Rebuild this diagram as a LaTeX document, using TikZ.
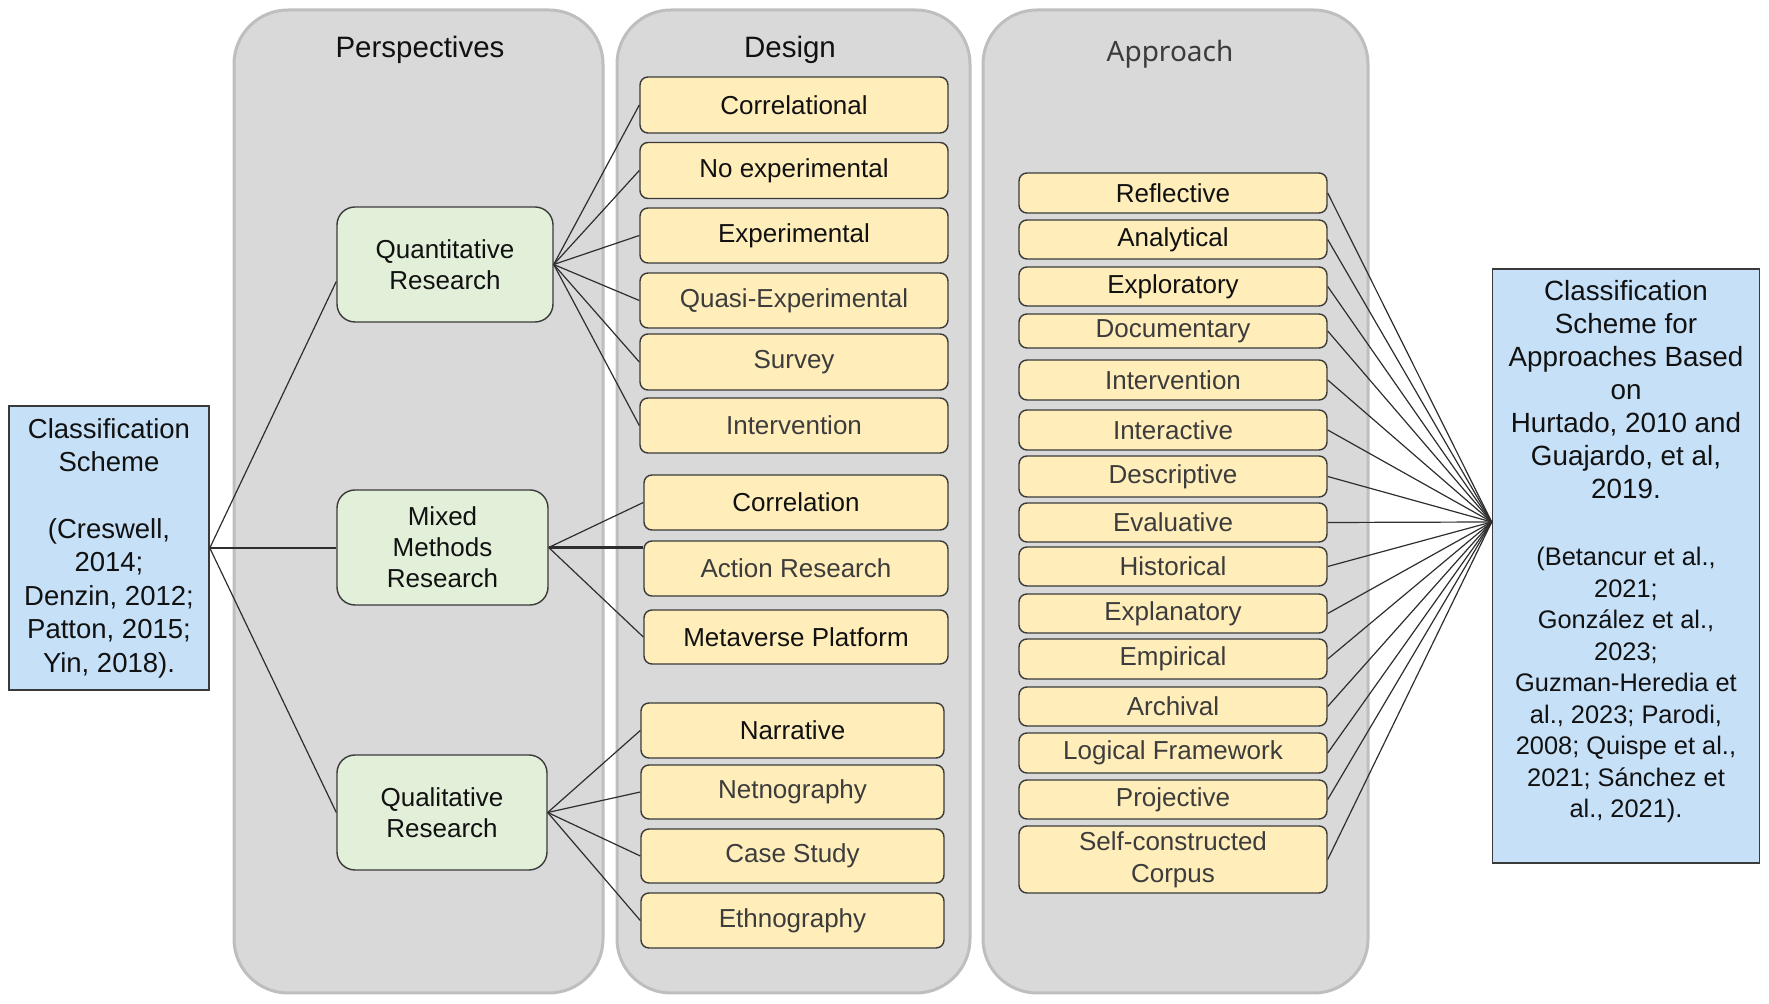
\documentclass[tikz,border=0pt]{standalone}
\usepackage{fontspec}
\setmainfont{Liberation Sans}
\newfontfamily\apprfont{Noto Sans}
\usetikzlibrary{calc}
\definecolor{panelfill}{HTML}{D9D9D9}
\definecolor{panelline}{HTML}{BEBEBE}
\definecolor{nodeline}{HTML}{3A3A3A}
\definecolor{ylw}{HTML}{FFEDBA}
\definecolor{grn}{HTML}{E2EFD9}
\definecolor{blu}{HTML}{C6E0F8}
\definecolor{txtdark}{HTML}{111111}
\definecolor{txtgray}{HTML}{3C3C3C}
\definecolor{connline}{HTML}{2E2E2E}
\begin{document}
\begin{tikzpicture}[x=0.5pt,y=-0.5pt,
  panel/.style={fill=panelfill, draw=panelline, line width=1.5pt, rounded corners=27pt},
  ttl/.style={font=\fontsize{14.75pt}{17pt}\selectfont, text=txtdark},
  ynode/.style={draw=nodeline, fill=ylw, line width=0.7pt, rounded corners=4pt, inner sep=0pt,
    align=center, font=\fontsize{13pt}{16pt}\selectfont, text=txtdark},
  dw/.style={minimum width=154pt},
  cw/.style={minimum width=152pt},
  nw/.style={minimum width=151.5pt},
  aw/.style={minimum width=154pt},
  gt/.style={text=txtgray},
  gnode/.style={draw=nodeline, fill=grn, line width=0.7pt, rounded corners=9pt, inner sep=0pt,
    minimum height=57.5pt, align=center, font=\fontsize{13pt}{15.6pt}\selectfont, text=txtdark},
  bnode/.style={draw=nodeline, fill=blu, line width=0.8pt, inner sep=0pt},
  conn/.style={draw=connline, line width=0.6pt},
  thickconn/.style={draw=connline, line width=1.3pt}
]
\useasboundingbox (0,0) rectangle (1769,1004);

% panels
\draw[panel] (234,10) rectangle (603,993);
\draw[panel] (617,10) rectangle (970,993);
\draw[panel] (983,10) rectangle (1368,993);
\node[ttl] (tPersp) at (420,50) {Perspectives};
\node[ttl] (tDesign) at (790,50) {Design};
\node[font=\apprfont\fontsize{14pt}{17pt}\selectfont, text=txtgray] (tAppr) at (1170,54) {Approach};

% left box
\node[bnode, minimum width=100pt, minimum height=142pt, align=center,
  font=\fontsize{13.75pt}{16.7pt}\selectfont, text=txtdark] (lbox) at (109,548)
  {Classification\\Scheme\\[16.7pt](Creswell,\\2014;\\Denzin, 2012;\\Patton, 2015;\\Yin, 2018).};

% right box
\node[bnode, minimum width=133.5pt, minimum height=297pt] (rbox) at (1626,566) {};
\node[anchor=north, inner sep=0pt, align=center, font=\fontsize{13.9pt}{16.5pt}\selectfont, text=txtdark]
  (rtextA) at (1626,280) {Classification\\Scheme for\\Approaches Based\\on\\Hurtado, 2010 and\\Guajardo, et al,\\2019.};
\node[anchor=north, inner sep=0pt, align=center, font=\fontsize{12.7pt}{15.75pt}\selectfont, text=txtdark]
  (rtextB) at (1626,547) {(Betancur et al.,\\2021;\\González et al.,\\2023;\\Guzman-Heredia et\\al., 2023; Parodi,\\2008; Quispe et al.,\\2021; Sánchez et\\al., 2021).};
\coordinate (conv) at ([yshift=22pt]rbox.west);

% perspectives
\node[gnode, minimum width=108pt] (quant) at (445,264.5) {Quantitative\\Research};
\node[gnode, minimum width=105.5pt] (mixed) at (442.5,547.5) {Mixed\\Methods\\Research};
\node[gnode, minimum width=105pt] (qual) at (442,812.5) {Qualitative\\Research};

% design
\node[ynode, dw, minimum height=28pt] (d1) at (794,105) {Correlational};
\node[ynode, dw, minimum height=28pt] (d2) at (794,170.5) {No experimental};
\node[ynode, dw, minimum height=27.5pt] (d3) at (794,235.5) {Experimental};
\node[ynode, dw, minimum height=27.5pt, gt] (d4) at (794,300.5) {Quasi-Experimental};
\node[ynode, dw, minimum height=28pt, gt] (d5) at (794,362) {Survey};
\node[ynode, dw, minimum height=27.5pt, gt] (d6) at (794,425.5) {Intervention};

\node[ynode, cw, minimum height=27.5pt] (m1) at (796,502.5) {Correlation};
\node[ynode, cw, minimum height=27.5pt, gt] (m2) at (796,568.5) {Action Research};
\node[ynode, cw, minimum height=27pt] (m3) at (796,637) {Metaverse Platform};

\node[ynode, nw, minimum height=27.5pt] (q1) at (792.5,730.5) {Narrative};
\node[ynode, nw, minimum height=27pt, gt] (q2) at (792.5,792) {Netnography};
\node[ynode, nw, minimum height=27pt, gt] (q3) at (792.5,856) {Case Study};
\node[ynode, nw, minimum height=27.5pt, gt] (q4) at (792.5,920.5) {Ethnography};

% approach
\node[ynode, aw, minimum height=20pt] (a1) at (1173,193) {Reflective};
\node[ynode, aw, minimum height=19.5pt] (a2) at (1173,239.5) {Analytical};
\node[ynode, aw, minimum height=19.5pt] (a3) at (1173,286.5) {Exploratory};
\node[ynode, aw, minimum height=17pt, gt] (a4) at (1173,331) {Documentary};
\node[ynode, aw, minimum height=20pt, gt] (a5) at (1173,380) {Intervention};
\node[ynode, aw, minimum height=20pt, gt] (a6) at (1173,430) {Interactive};
\node[ynode, aw, minimum height=20.5pt, gt] (a7) at (1173,476.5) {Descriptive};
\node[ynode, aw, minimum height=19.5pt, gt] (a8) at (1173,522.5) {Evaluative};
\node[ynode, aw, minimum height=19.5pt, gt] (a9) at (1173,566.5) {Historical};
\node[ynode, aw, minimum height=19.5pt, gt] (a10) at (1173,613.5) {Explanatory};
\node[ynode, aw, minimum height=20pt, gt] (a11) at (1173,659) {Empirical};
\node[ynode, aw, minimum height=19.5pt, gt] (a12) at (1173,706.5) {Archival};
\node[ynode, aw, minimum height=20pt, gt] (a13) at (1173,753) {Logical Framework};
\node[ynode, aw, minimum height=19.5pt, gt] (a14) at (1173,799.5) {Projective};
\node[ynode, aw, minimum height=33.5pt, gt, font=\fontsize{13pt}{16pt}\selectfont] (a15) at (1173,859.5) {Self-constructed\\Corpus};

% connectors
\draw[conn] (lbox.east) -- ([yshift=-8.5pt]quant.west);
\draw[thickconn] (lbox.east) -- (lbox.east -| mixed.west);
\draw[conn] (lbox.east) -- (qual.west);

\foreach \t in {d1,d2,d3,d4,d5,d6}
  \draw[conn] (quant.east) -- (\t.west);
\draw[conn] (mixed.east) -- (m1.west);
\draw[thickconn] (mixed.east) -- (mixed.east -| m2.west);
\draw[conn] (mixed.east) -- (m3.west);
\foreach \t in {q1,q2,q3,q4}
  \draw[conn] (qual.east) -- (\t.west);

\foreach \t in {a1,a2,a3,a4,a5,a6,a7,a8,a9,a10,a11,a12,a13,a14,a15}
  \draw[conn] (\t.east) -- (conv);
\end{tikzpicture}
\end{document}
